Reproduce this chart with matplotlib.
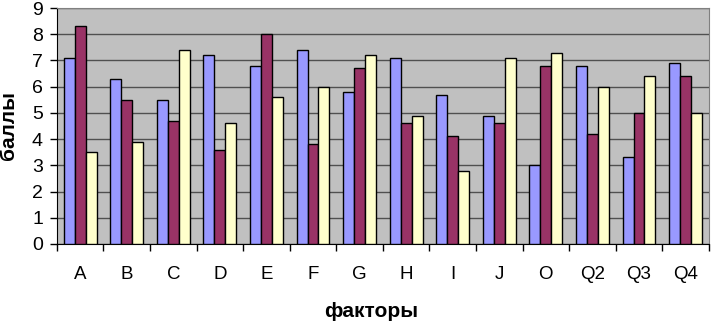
import numpy as np
import matplotlib
matplotlib.use("Agg")
import matplotlib.pyplot as plt

# factor scores per group
factors = ["A", "B", "C", "D", "E", "F", "G", "H", "I", "J", "O", "Q2", "Q3", "Q4"]
series1 = [7.1, 6.3, 5.5, 7.2, 6.8, 7.4, 5.8, 7.1, 5.7, 4.9, 3.0, 6.8, 3.3, 6.9]
series2 = [8.3, 5.5, 4.7, 3.6, 8.0, 3.8, 6.7, 4.6, 4.1, 4.6, 6.8, 4.2, 5.0, 6.4]
series3 = [3.5, 3.9, 7.4, 4.6, 5.6, 6.0, 7.2, 4.9, 2.8, 7.1, 7.3, 6.0, 6.4, 5.0]

colors = ["#9999FF", "#993366", "#FFFFCC"]

plt.rcParams["font.family"] = ["Liberation Sans", "DejaVu Sans"]

fig = plt.figure(figsize=(7.11, 3.21), dpi=100)
ax = fig.add_axes([0.080, 0.240, 0.917, 0.735])
ax.set_facecolor("#C0C0C0")

x = np.arange(len(factors))
w = 0.235
for i, (vals, c) in enumerate(zip([series1, series2, series3], colors)):
    ax.bar(x + (i - 1) * w, vals, width=w, color=c, edgecolor="black",
           linewidth=1.0, zorder=3)

ax.set_xlim(-0.5, len(factors) - 0.5)
ax.set_ylim(0, 9)
ax.set_yticks(range(10))
ax.yaxis.grid(True, color="#505050", linewidth=1.0, zorder=0)
ax.set_axisbelow(True)

# category labels centred, ticks at group boundaries
ax.set_xticks(x)
ax.set_xticklabels(factors, fontsize=13.5)
ax.set_xticks(np.arange(-0.5, len(factors), 1), minor=True)
ax.tick_params(axis="x", which="major", length=0, pad=16)
ax.tick_params(axis="x", which="minor", length=5, width=1, direction="out")
ax.tick_params(axis="y", labelsize=14, length=5, width=1, direction="out", pad=5)

for s in ["top", "right"]:
    ax.spines[s].set_color("#808080")
ax.spines["left"].set_color("black")
ax.spines["bottom"].set_color("black")

ax.set_ylabel("баллы", fontsize=15, fontweight="bold")
ax.yaxis.set_label_coords(-0.059, 0.5)
ax.set_xlabel("факторы", fontsize=15, fontweight="bold")
ax.xaxis.set_label_coords(0.482, -0.245)

fig.savefig("out.png", dpi=100)
